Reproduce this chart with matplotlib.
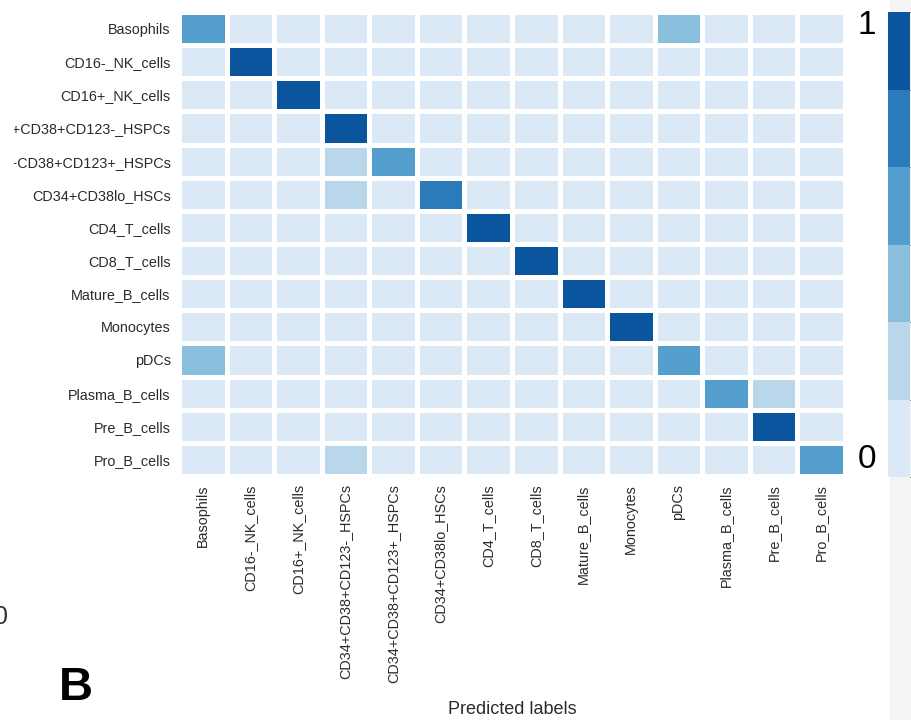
import numpy as np
import matplotlib
matplotlib.use("Agg")
import matplotlib.pyplot as plt
from matplotlib.colors import ListedColormap, BoundaryNorm
from matplotlib.patches import Rectangle

plt.rcParams["font.family"] = ["Liberation Sans", "DejaVu Sans"]

cell_types = [
    "Basophils", "CD16-_NK_cells", "CD16+_NK_cells",
    "CD34+CD38+CD123-_HSPCs", "CD34+CD38+CD123+_HSPCs", "CD34+CD38lo_HSCs",
    "CD4_T_cells", "CD8_T_cells", "Mature_B_cells", "Monocytes", "pDCs",
    "Plasma_B_cells", "Pre_B_cells", "Pro_B_cells",
]

# Row-normalised confusion matrix (rows: true label, columns: predicted label)
diag_values = [0.60, 0.97, 0.98, 0.96, 0.62, 0.74, 0.97, 0.96, 0.95, 0.97,
               0.62, 0.60, 0.96, 0.64]
off_rows = [0, 10, 4, 5, 11, 13]
off_cols = [10, 0, 3, 3, 12, 3]
off_values = [0.38, 0.36, 0.26, 0.22, 0.30, 0.26]

n = len(cell_types)
conf = np.zeros((n, n))
conf[np.arange(n), np.arange(n)] = diag_values
conf[off_rows, off_cols] = off_values

# Six-step Blues palette
palette = [plt.get_cmap("Blues")(v) for v in np.linspace(0, 1, 8)[1:-1]]
cmap = ListedColormap(palette)
norm = BoundaryNorm(np.linspace(0, 1, 7), cmap.N)

W, H = 912, 720
fig = plt.figure(figsize=(W / 100, H / 100), dpi=100)

# faint grey strip along the right border
fig.patches.append(Rectangle((890 / W, 0), 22 / W, 1, transform=fig.transFigure,
                             facecolor="#f4f4f4", edgecolor="none", zorder=-5))

ax = fig.add_axes([179 / W, 1 - 476 / H, 666 / W, 464 / H])
ax.pcolormesh(np.arange(n + 1), np.arange(n + 1), conf, cmap=cmap, norm=norm,
              edgecolors="white", linewidth=2.2)
ax.set_xlim(0, n)
ax.set_ylim(n, 0)
for s in ax.spines.values():
    s.set_visible(False)

label_color = "#2b2b2b"
ax.set_xticks(np.arange(n) + 0.5)
ax.set_xticklabels(cell_types, rotation=90, fontsize=10.4, color=label_color)
ax.set_yticks(np.arange(n) + 0.5)
ax.set_yticklabels(cell_types, fontsize=10.4, color=label_color)
ax.tick_params(length=0, pad=6)

fig.text(512 / W, 1 - 710 / H, "Predicted labels", fontsize=13,
         ha="center", va="center", color=label_color)

# colour bar
cax = fig.add_axes([888 / W, 1 - 477 / H, 22 / W, 465 / H])
sm = matplotlib.cm.ScalarMappable(norm=norm, cmap=cmap)
cb = fig.colorbar(sm, cax=cax)
cb.outline.set_visible(False)
cb.set_ticks([])

fig.text(867 / W, 1 - 26 / H, "1", fontsize=24, ha="center", va="center")
fig.text(867 / W, 1 - 460 / H, "0", fontsize=24, ha="center", va="center")

# blank margin on the left edge of the panel
fig.patches.append(Rectangle((0, 1 - 560 / H), 14 / W, 560 / H,
                             transform=fig.transFigure, facecolor="white",
                             edgecolor="none", zorder=10))

# panel letter and neighbouring panel remnant
fig.text(76 / W, 1 - 688 / H, "B", fontsize=34, fontweight="bold",
         ha="center", va="center")
fig.text(8 / W, 1 - 617 / H, "0", fontsize=18, ha="right", va="center",
         color="#333333")

fig.savefig("out.png", dpi=100)
